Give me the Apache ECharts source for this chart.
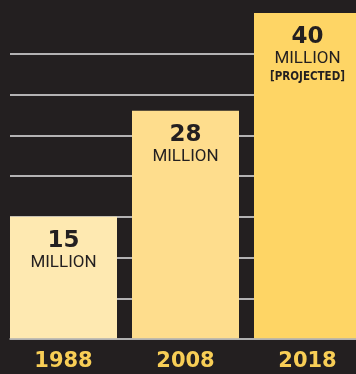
<!DOCTYPE html>
<html><head><meta charset="utf-8">
<script src="https://cdn.jsdelivr.net/npm/echarts@6/dist/echarts.min.js"></script>
<style>html,body{margin:0;padding:0;background:#231f20}#c{width:356px;height:374px}</style>
</head><body><div id="c"></div>
<script>
const categories = ['1988', '2008', '2018'];
const values = [15, 28, 40];
const units = ['MILLION', 'MILLION', 'MILLION'];
const notes = ['', '', '[PROJECTED]'];

const barColors = ['#fee9b1', '#fedd8d', '#fed565'];

const chart = echarts.init(document.getElementById('c'), null, {renderer: 'canvas'});
chart.setOption({
  backgroundColor: '#231f20',
  animation: false,
  grid: [
    {left: 10, right: 0, top: 53.75, bottom: 35, outerBoundsMode: 'none', containLabel: false},
    {left: 2.5, right: -12.5, top: 13, bottom: 35, outerBoundsMode: 'none', containLabel: false}
  ],
  xAxis: [
    {gridIndex: 0, type: 'value', min: 0, max: 1, z: 5,
     axisLine: {show: true, lineStyle: {color: '#b0b0b0', width: 1.5}},
     axisTick: {show: false}, axisLabel: {show: false}, splitLine: {show: false}},
    {gridIndex: 1, type: 'category', data: categories,
     axisLine: {show: false}, axisTick: {show: false},
     axisLabel: {color: '#f8ce56', fontSize: 21, fontWeight: 'bold',
                 fontFamily: '"DejaVu Sans", sans-serif', margin: 12}}
  ],
  yAxis: [
    {gridIndex: 0, type: 'value', min: 0, max: 35, interval: 5,
     axisLine: {show: false}, axisTick: {show: false}, axisLabel: {show: false},
     splitLine: {show: true, lineStyle: {color: '#e4e4e4', width: 1.6}}},
    {gridIndex: 1, type: 'value', min: 0, max: 40, show: false}
  ],
  series: [{
    type: 'bar',
    xAxisIndex: 1, yAxisIndex: 1,
    barWidth: 107,
    data: values.map((v, i) => ({value: v, itemStyle: {color: barColors[i]}})),
    label: {
      show: true,
      position: 'insideTop',
      distance: 12,
      formatter: p => {
        let s = '{n|' + p.value + '}\n{u|' + units[p.dataIndex] + '}';
        if (notes[p.dataIndex]) s += '\n{p|' + notes[p.dataIndex] + '}';
        return s;
      },
      rich: {
        n: {fontSize: 23, fontWeight: 'bold', color: '#231f20', lineHeight: 24,
            fontFamily: '"DejaVu Sans", sans-serif', align: 'center'},
        u: {fontSize: 17, color: '#231f20', lineHeight: 19,
            fontFamily: 'Roboto, "Liberation Sans", sans-serif', align: 'center'},
        p: {fontSize: 11.5, fontWeight: 'bold', color: '#231f20', lineHeight: 19,
            fontFamily: '"Liberation Sans Narrow", "DejaVu Sans Condensed", sans-serif', align: 'center'}
      }
    }
  }]
});
</script>
</body></html>
